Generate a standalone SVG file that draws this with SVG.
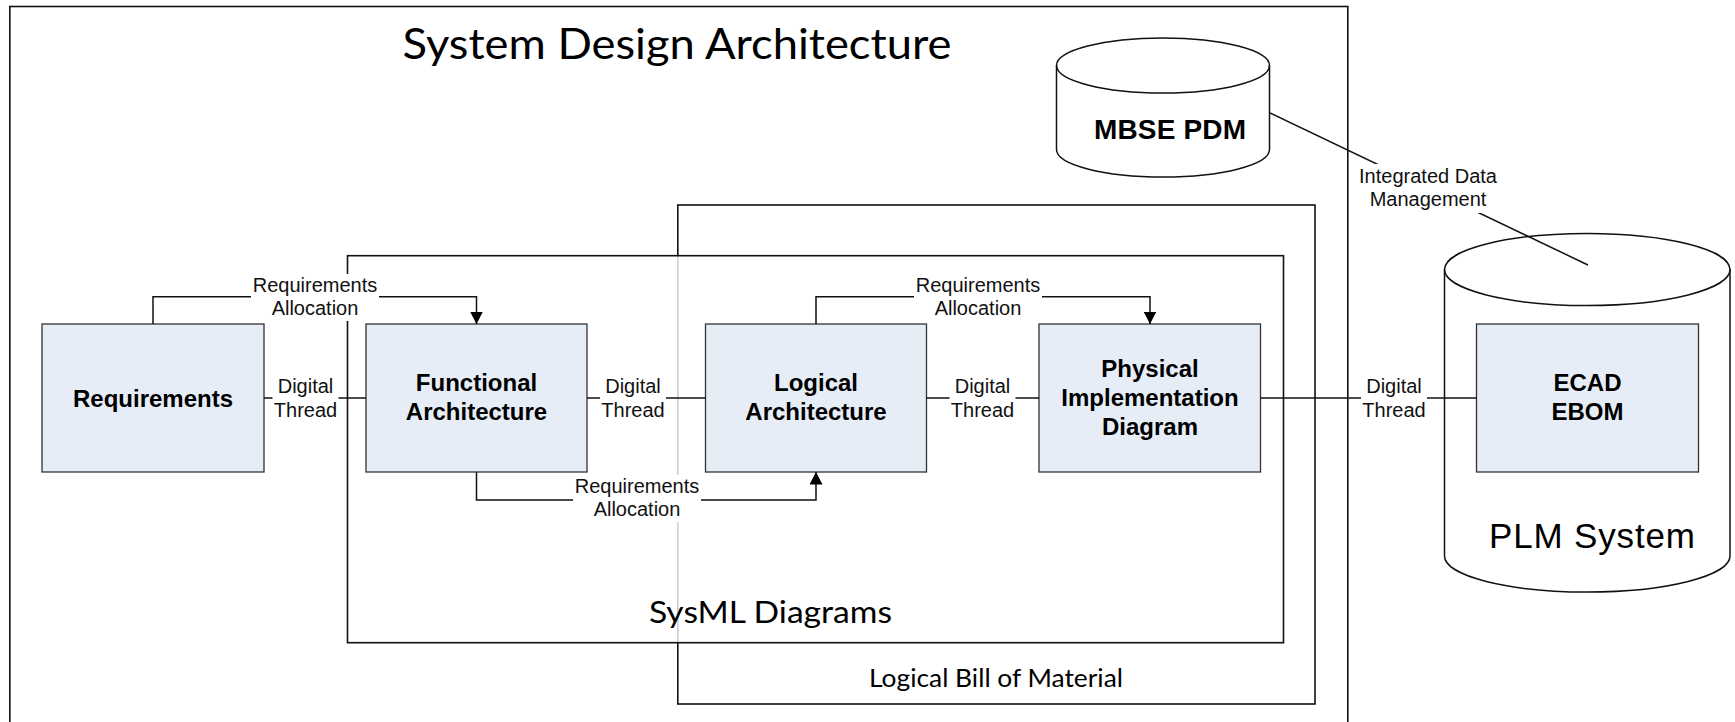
<svg xmlns="http://www.w3.org/2000/svg" width="1735" height="722" viewBox="0 0 1735 722">
<style>
.frame{fill:none;stroke:#111;stroke-width:1.6}
.box{fill:#E6EDF7;stroke:#333;stroke-width:1.3}
.cyl{fill:#fff;stroke:#111;stroke-width:1.5}
.conn{fill:none;stroke:#111;stroke-width:1.5}
.bold{font-family:"Liberation Sans",Arial,sans-serif;font-weight:bold;font-size:24px;fill:#000;text-anchor:middle}
.lbl{font-family:"Liberation Sans",Arial,sans-serif;font-size:20px;fill:#111;text-anchor:middle}
.bg{fill:#fff;stroke:none}
.cal{font-family:Lato,"Open Sans",sans-serif;fill:#000;text-anchor:middle}
</style>
<defs>
<marker id="arr" viewBox="0 0 12.5 13" refX="12.5" refY="6.5" markerWidth="12.5" markerHeight="13" markerUnits="userSpaceOnUse" orient="auto">
<path d="M0,0 L12.5,6.5 L0,13 Z" fill="#000"/>
</marker>
</defs>
<rect width="1735" height="722" fill="#fff"/>

<g id="frames">
<rect id="system-design-frame" class="frame" x="9.8" y="6.5" width="1338" height="730"/>
<rect id="lbom-frame" class="frame" x="677.8" y="205" width="637.2" height="499"/>
<rect id="sysml-frame" class="frame" x="347.5" y="255.7" width="936" height="387" style="fill:#fff;fill-opacity:0.8"/>
<text class="cal" x="677" y="59.3" font-size="43" textLength="549" lengthAdjust="spacingAndGlyphs">System Design Architecture</text>
<text class="cal" x="770.5" y="623.3" font-size="30" textLength="243" lengthAdjust="spacingAndGlyphs">SysML Diagrams</text>
<text class="cal" x="996" y="686.7" font-size="25.5" textLength="254" lengthAdjust="spacingAndGlyphs">Logical Bill of Material</text>
</g>

<g id="mbse-pdm">
<path class="cyl" d="M1056.5 65.5 A106.5 27.5 0 0 1 1269.5 65.5 L1269.5 149.5 A106.5 27.5 0 0 1 1056.5 149.5 Z"/>
<path class="cyl" d="M1056.5 65.5 A106.5 27.5 0 0 0 1269.5 65.5" style="fill:none"/>
<text class="bold" x="1170" y="139" style="font-size:28px" textLength="152">MBSE PDM</text>
</g>

<g id="plm-system">
<path class="cyl" d="M1444.5 269.5 A142.75 36 0 0 1 1730 269.5 L1730 556 A142.75 36 0 0 1 1444.5 556 Z"/>
<path class="cyl" d="M1444.5 269.5 A142.75 36 0 0 0 1730 269.5" style="fill:none"/>
<text x="1592" y="548" font-family="Liberation Sans,Arial,sans-serif" font-size="35" text-anchor="middle" fill="#000" textLength="206">PLM System</text>
</g>

<g id="requirements">
<rect class="box" x="42" y="324" width="222" height="148"/>
<text class="bold" x="153" y="406.5">Requirements</text>
</g>
<g id="functional-architecture">
<rect class="box" x="366" y="324" width="221" height="148"/>
<text class="bold" x="476.5" y="390.7">Functional</text>
<text class="bold" x="476.5" y="420">Architecture</text>
</g>
<g id="logical-architecture">
<rect class="box" x="705.5" y="324" width="221" height="148"/>
<text class="bold" x="816" y="390.7">Logical</text>
<text class="bold" x="816" y="420">Architecture</text>
</g>
<g id="physical-implementation-diagram">
<rect class="box" x="1039" y="324" width="221.5" height="148"/>
<text class="bold" x="1150" y="377">Physical</text>
<text class="bold" x="1150" y="406">Implementation</text>
<text class="bold" x="1150" y="435">Diagram</text>
</g>
<g id="ecad-ebom">
<rect class="box" x="1476.5" y="324" width="222" height="148"/>
<text class="bold" x="1587.5" y="390.7">ECAD</text>
<text class="bold" x="1587.5" y="420">EBOM</text>
</g>

<g id="connectors">
<path class="conn" d="M153 324 V296.7 H476.5 V324" marker-end="url(#arr)"/>
<path class="conn" d="M816 324 V296.7 H1150 V324" marker-end="url(#arr)"/>
<path class="conn" d="M476.5 472 V500 H816 V472" marker-end="url(#arr)"/>
<path class="conn" d="M264 398 H366"/>
<path class="conn" d="M587 398 H705.5"/>
<path class="conn" d="M926.5 398 H1039"/>
<path class="conn" d="M1260.5 398 H1476.5"/>
<path class="conn" d="M1270 113 L1588 265"/>

<rect class="bg" x="251" y="274" width="128" height="47"/>
<text class="lbl" x="315" y="291.5">Requirements</text>
<text class="lbl" x="315" y="314.8">Allocation</text>

<rect class="bg" x="914" y="274" width="128" height="47"/>
<text class="lbl" x="978" y="291.5">Requirements</text>
<text class="lbl" x="978" y="314.8">Allocation</text>

<rect class="bg" x="573" y="475" width="128" height="47"/>
<text class="lbl" x="637" y="492.7">Requirements</text>
<text class="lbl" x="637" y="516">Allocation</text>

<rect class="bg" x="272.5" y="376" width="66" height="46"/>
<text class="lbl" x="305.5" y="393.3">Digital</text>
<text class="lbl" x="305.5" y="416.7">Thread</text>

<rect class="bg" x="600" y="376" width="66" height="46"/>
<text class="lbl" x="633" y="393.3">Digital</text>
<text class="lbl" x="633" y="416.7">Thread</text>

<rect class="bg" x="949.5" y="376" width="66" height="46"/>
<text class="lbl" x="982.5" y="393.3">Digital</text>
<text class="lbl" x="982.5" y="416.7">Thread</text>

<rect class="bg" x="1361" y="376" width="66" height="46"/>
<text class="lbl" x="1394" y="393.3">Digital</text>
<text class="lbl" x="1394" y="416.7">Thread</text>

<rect class="bg" x="1356" y="164" width="144" height="49"/>
<text class="lbl" x="1428" y="182.5">Integrated Data</text>
<text class="lbl" x="1428" y="205.5">Management</text>
</g>
</svg>
